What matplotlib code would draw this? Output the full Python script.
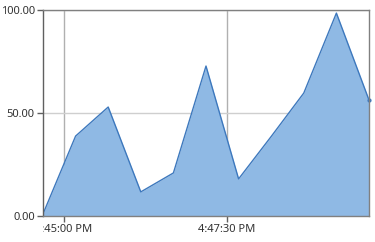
import matplotlib.pyplot as plt
import matplotlib.dates as mdates
from matplotlib.transforms import Bbox, TransformedBbox
from datetime import datetime

times = ["16:44:41", "16:45:11", "16:45:41", "16:46:11", "16:46:41", "16:47:11",
         "16:47:41", "16:48:11", "16:48:41", "16:49:11", "16:49:41"]
values = [1.0, 38.8, 52.9, 11.7, 20.9, 72.8, 18.0, 38.6, 59.7, 98.5, 56.3]
x_ticks = ["16:45:00", "16:47:30"]
y_ticks = [0, 50, 100]

x = [datetime.strptime("2024-01-01 " + t, "%Y-%m-%d %H:%M:%S") for t in times]
xt = [datetime.strptime("2024-01-01 " + t, "%Y-%m-%d %H:%M:%S") for t in x_ticks]

plt.rcParams['font.family'] = ['Noto Sans', 'DejaVu Sans']

fig = plt.figure(figsize=(3.75, 2.42), dpi=100)
ax = fig.add_axes([43/375, 26/242, 326/375, 206/242])

ax.fill_between(x, values, 0, color='#8fb9e4', linewidth=0)
ax.plot(x, values, color='#3d78bd', linewidth=1.0)
ax.plot(x[-1:], values[-1:], 'o', color='#3d78bd', markersize=2, clip_on=False)

ax.set_xlim(x[0], x[-1])
ax.set_ylim(0, 100)
ax.set_yticks(y_ticks)
ax.yaxis.set_major_formatter(plt.FuncFormatter(lambda v, p: "%.2f" % v))
ax.xaxis.set_major_locator(plt.FixedLocator(mdates.date2num(xt)))
ax.xaxis.set_major_formatter(mdates.DateFormatter('%-I:%M:%S %p'))

ax.grid(axis='y', color='#cfcfcf', linewidth=1)
ax.grid(axis='x', color='#b0b0b0', linewidth=1)
ax.set_axisbelow(True)
for s in ax.spines.values():
    s.set_color('#808080')
    s.set_linewidth(1)
ax.spines['left'].set_color('#606060')

ax.tick_params(axis='both', labelsize=8, colors='#333333', length=4, width=1, pad=2)
ax.tick_params(axis='both', color='#606060')

# the first time label is cut off at the left edge of the plot area
clip = TransformedBbox(Bbox([[0, -1], [1.2, 1.1]]), ax.transAxes)
for t in ax.xaxis.get_major_ticks():
    t.label1.set_clip_on(True)
    t.label1.set_clip_box(clip)

fig.savefig("out.png", dpi=100)
